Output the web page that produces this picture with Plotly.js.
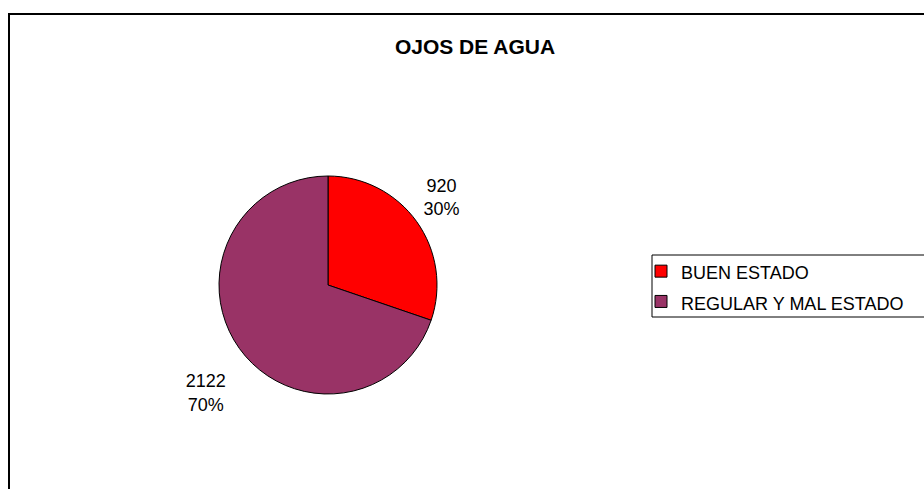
<!DOCTYPE html>
<html>
<head>
<meta charset="utf-8">
<script src="https://cdn.plot.ly/plotly-3.0.1.min.js"></script>
<style>
  html, body { margin: 0; padding: 0; background: #ffffff; }
  #chart { width: 924px; height: 489px; }
</style>
</head>
<body>
<div id="chart"></div>
<script>
// ---- data ----
const chartTitle = "OJOS DE AGUA";
const categories = ["BUEN ESTADO", "REGULAR Y MAL ESTADO"];
const values = [920, 2122];
const sliceColors = ["#FF0000", "#993366"];

const W = 924, H = 489;
const FONT = "Liberation Sans, Arial, Helvetica, sans-serif";
const LABEL_TPL = "%{value}<br>%{percent:.0%}";

// pie geometry (pixels)
const cx = 328, cy = 285, r = 109;
function dom(rad) {
  return { x: [(cx - rad) / W, (cx + rad) / W], y: [(H - cy - rad) / H, (H - cy + rad) / H] };
}

const mainPie = {
  type: "pie",
  labels: categories.map(c => '<span style="font-size:18px">' + c + '</span>'),
  values: values,
  sort: false,
  direction: "clockwise",
  rotation: 0,
  marker: { colors: sliceColors, line: { color: "#000000", width: 1 } },
  textposition: "none",
  hoverinfo: "label+value+percent",
  automargin: false,
  domain: dom(r),
  showlegend: true
};

// transparent companion pies that only carry the outside data labels
function labelPie(rad, rot, showIdx) {
  return {
    type: "pie",
    labels: categories,
    values: values,
    sort: false,
    direction: "clockwise",
    rotation: rot,
    marker: { colors: categories.map(() => "rgba(0,0,0,0)"), line: { width: 0 } },
    textposition: "outside",
    texttemplate: categories.map((c, i) => i === showIdx ? LABEL_TPL : ""),
    textfont: { family: FONT, size: 18, color: "#000000" },
    hoverinfo: "skip",
    automargin: false,
    domain: dom(rad),
    showlegend: false
  };
}

const layout = {
  width: W,
  height: H,
  margin: { l: 0, r: 0, t: 0, b: 0, autoexpand: false },
  paper_bgcolor: "#ffffff",
  font: { family: FONT, color: "#000000" },
  title: {
    text: chartTitle,
    font: { family: FONT, size: 21, weight: "bold", color: "#000000" },
    x: 475 / W, xanchor: "center",
    y: 1 - 47 / H, yanchor: "middle",
    xref: "container", yref: "container"
  },
  showlegend: true,
  legend: {
    x: 641 / W, xanchor: "left",
    y: 1 - 251 / H, yanchor: "top",
    bgcolor: "rgba(0,0,0,0)",
    borderwidth: 0,
    font: { family: FONT, size: 21, color: "#000000" },
    itemwidth: 30,
    traceorder: "normal"
  },
  shapes: [
    // outer chart frame
    { type: "rect", xref: "paper", yref: "paper",
      x0: 9 / W, x1: 1.02, y0: -0.02, y1: 1 - 14 / H,
      line: { color: "#000000", width: 2 }, fillcolor: "rgba(0,0,0,0)", layer: "below" },
    // legend frame
    { type: "rect", xref: "paper", yref: "paper",
      x0: 652 / W, x1: 1.02, y0: 1 - 317 / H, y1: 1 - 255 / H,
      line: { color: "#000000", width: 1 }, fillcolor: "#ffffff", layer: "below" }
  ]
};

Plotly.newPlot("chart", [mainPie, labelPie(115, -7, 0), labelPie(133, -11, 1)], layout,
  { displayModeBar: false, staticPlot: true });
</script>
</body>
</html>
